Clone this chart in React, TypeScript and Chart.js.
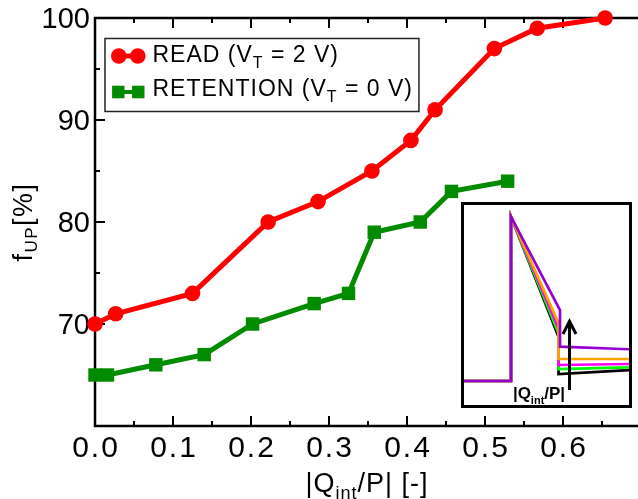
import React, { useEffect, useRef } from 'react';
import { Chart, registerables } from 'chart.js';
Chart.register(...registerables);

// ---------- main chart data ----------
const readX = [0, 0.0265, 0.125, 0.222, 0.286, 0.355, 0.405, 0.436, 0.512, 0.567, 0.654];
const readY = [70, 71, 73, 80, 82, 85, 88, 91, 97, 99, 100];
const retX = [0, 0.016, 0.078, 0.14, 0.202, 0.281, 0.325, 0.358, 0.417, 0.457, 0.529];
const retY = [65, 65, 66, 67, 70, 72, 73, 79, 80, 83, 84];

const xTickValues = [0, 0.1, 0.2, 0.3, 0.4, 0.5, 0.6];
const xTickLabels = ['0.0', '0.1', '0.2', '0.3', '0.4', '0.5', '0.6'];
const yTickValues = [70, 80, 90, 100];
const yTickLabels = ['70', '80', '90', '100'];
const xMinorValues = [0.05, 0.15, 0.25, 0.35, 0.45, 0.55, 0.65];
const yMinorValues = [65, 75, 85, 95];

const legendNames = ['READ', 'RETENTION'];
const legendVT = ['2 V', '0 V'];

// ---------- inset data (arbitrary units) ----------
const insetX = [0, 47, 47, 94.5, 94.5, 166];
const insetXPurple = [0, 47, 47, 96, 96, 166];
const insetPurple = [24, 24, 188.3, 95, 58.3, 55.7];
const insetOrange = [24, 24, 188.3, 82, 46, 46];
const insetMagenta = [24, 24, 188.3, 76.7, 40, 41];
const insetGreen = [24, 24, 188.3, 71.7, 36, 37.7];
const insetBlack = [24, 24, 188.3, 68.3, 31, 35];
const arrowX = [105.5, 105.5];
const arrowY = [15, 83.3];
const arrowHeadX = [99, 105.5, 112];
const arrowHeadY = [71, 83.8, 71];

const FONT = '"Liberation Sans", Arial, Helvetica, sans-serif';
const RED = '#ff0000';
const GREEN = 'rgb(0,139,0)';

type Part = { t: string; sub?: boolean };
function drawRich(
  ctx: CanvasRenderingContext2D,
  parts: Part[],
  x: number,
  y: number,
  font: string,
  subFont: string,
  subDy: number,
  align: 'left' | 'center',
  spacing = 0
) {
  ctx.save();
  ctx.textBaseline = 'alphabetic';
  ctx.textAlign = 'left';
  (ctx as any).letterSpacing = spacing + 'px';
  ctx.fillStyle = '#000';
  let total = 0;
  const widths = parts.map((p) => {
    ctx.font = p.sub ? subFont : font;
    const w = ctx.measureText(p.t).width;
    total += w;
    return w;
  });
  let cx = align === 'center' ? x - total / 2 : x;
  parts.forEach((p, i) => {
    ctx.font = p.sub ? subFont : font;
    ctx.fillText(p.t, cx, y + (p.sub ? subDy : 0));
    cx += widths[i];
  });
  ctx.restore();
  return total;
}

const axesPlugin = {
  id: 'axesPlugin',
  beforeDatasetsDraw(chart: any) {
    const ctx: CanvasRenderingContext2D = chart.ctx;
    const { left, right, top, bottom } = chart.chartArea;
    const xs = chart.scales.x;
    const ys = chart.scales.y;
    ctx.save();
    ctx.strokeStyle = '#000';
    ctx.lineWidth = 2.5;
    ctx.beginPath();
    ctx.moveTo(left, top);
    ctx.lineTo(right + 5, top);
    ctx.moveTo(left, top - 1.25);
    ctx.lineTo(left, bottom + 1.25);
    ctx.moveTo(left, bottom);
    ctx.lineTo(right + 5, bottom);
    ctx.stroke();
    ctx.lineWidth = 2;
    ctx.beginPath();
    const tick = (v: number, len: number) => {
      const px = xs.getPixelForValue(v);
      ctx.moveTo(px, bottom);
      ctx.lineTo(px, bottom - len);
      ctx.moveTo(px, top);
      ctx.lineTo(px, top + len);
    };
    xTickValues.forEach((v) => tick(v, 10));
    xMinorValues.forEach((v) => tick(v, 5));
    const ytick = (v: number, len: number) => {
      const py = ys.getPixelForValue(v);
      ctx.moveTo(left, py);
      ctx.lineTo(left + len, py);
    };
    yTickValues.forEach((v) => ytick(v, 10));
    yMinorValues.forEach((v) => ytick(v, 5));
    ctx.stroke();

    // tick labels
    ctx.fillStyle = '#000';
    ctx.font = `29px ${FONT}`;
    ctx.textAlign = 'right';
    ctx.textBaseline = 'alphabetic';
    yTickValues.forEach((v, i) => {
      ctx.fillText(yTickLabels[i], left - 5, ys.getPixelForValue(v) + 10.4);
    });
    ctx.font = `30px ${FONT}`;
    ctx.textAlign = 'center';
    (ctx as any).letterSpacing = '2px';
    xTickValues.forEach((v, i) => {
      ctx.fillText(xTickLabels[i], xs.getPixelForValue(v) + 1, 457);
    });
    (ctx as any).letterSpacing = '0px';
    ctx.restore();

    // axis titles
    drawRich(
      ctx,
      [{ t: '|Q' }, { t: 'int', sub: true }, { t: '/P| [-]' }],
      367,
      492,
      `27px ${FONT}`,
      `18px ${FONT}`,
      7,
      'center',
      1
    );
    ctx.save();
    ctx.translate(32, 222);
    ctx.rotate(-Math.PI / 2);
    drawRich(ctx, [{ t: 'f' }, { t: 'UP', sub: true }, { t: '[%]' }], 0, 0, `27px ${FONT}`, `17px ${FONT}`, 5, 'center', 1.5);
    ctx.restore();
  },
  afterDraw(chart: any) {
    const ctx: CanvasRenderingContext2D = chart.ctx;
    // legend
    const textX = 152.5;
    const base = [62.3, 95.7];
    const f = `23px ${FONT}`;
    const sf = `16px ${FONT}`;
    let maxW = 0;
    legendNames.forEach((n, i) => {
      const w = drawRich(
        ctx,
        [{ t: n + ' (V' }, { t: 'T', sub: true }, { t: ' = ' + legendVT[i] + ')' }],
        textX,
        base[i],
        f,
        sf,
        6,
        'left',
        1
      );
      maxW = Math.max(maxW, w);
    });
    ctx.save();
    ctx.strokeStyle = '#222';
    ctx.lineWidth = 1.5;
    ctx.strokeRect(105, 38.5, textX + maxW + 6 - 105, 111.5 - 38.5);
    // markers
    ctx.strokeStyle = RED;
    ctx.lineWidth = 5;
    ctx.beginPath();
    ctx.moveTo(118.8, 56);
    ctx.lineTo(137.8, 56);
    ctx.stroke();
    ctx.fillStyle = RED;
    [118.8, 137.8].forEach((cx) => {
      ctx.beginPath();
      ctx.arc(cx, 56, 7.8, 0, Math.PI * 2);
      ctx.fill();
    });
    ctx.strokeStyle = GREEN;
    ctx.lineWidth = 4;
    ctx.beginPath();
    ctx.moveTo(118.3, 92);
    ctx.lineTo(138.3, 92);
    ctx.stroke();
    ctx.fillStyle = GREEN;
    [118.3, 138.3].forEach((cx) => {
      ctx.fillRect(cx - 6.2, 92 - 6.3, 12.4, 12.6);
    });
    ctx.restore();
  },
};

const insetPlugin = {
  id: 'insetPlugin',
  afterDraw(chart: any) {
    const ctx: CanvasRenderingContext2D = chart.ctx;
    const xs = chart.scales.x;
    const ys = chart.scales.y;
    drawRich(
      ctx,
      [{ t: '|Q' }, { t: 'int', sub: true }, { t: '/P|' }],
      xs.getPixelForValue(75),
      ys.getPixelForValue(6),
      `bold 17px ${FONT}`,
      `bold 11px ${FONT}`,
      5,
      'center'
    );
  },
};

function pts(xa: number[], ya: number[]) {
  return xa.map((x, i) => ({ x, y: ya[i] }));
}

function MainChart() {
  const ref = useRef<HTMLCanvasElement | null>(null);
  useEffect(() => {
    if (!ref.current) return;
    const chart = new Chart(ref.current, {
      type: 'line',
      data: {
        datasets: [
          {
            label: 'READ',
            data: pts(readX, readY),
            borderColor: RED,
            backgroundColor: RED,
            borderWidth: 5,
            pointStyle: 'circle',
            pointRadius: 7.8,
            pointBorderWidth: 0,
            pointBackgroundColor: RED,
            clip: false,
          } as any,
          {
            label: 'RETENTION',
            data: pts(retX, retY),
            borderColor: GREEN,
            backgroundColor: GREEN,
            borderWidth: 5,
            pointStyle: 'rect',
            pointRadius: 9.5,
            pointBorderWidth: 0,
            pointBackgroundColor: GREEN,
            clip: false,
          } as any,
        ],
      },
      options: {
        responsive: false,
        animation: false,
        devicePixelRatio: 1,
        layout: { padding: 0, autoPadding: false } as any,
        plugins: { legend: { display: false }, tooltip: { enabled: false } },
        scales: {
          x: {
            type: 'linear',
            position: 'bottom',
            min: 0,
            max: 0.7,
            ticks: { display: false },
            grid: { display: false },
            border: { display: false },
            afterFit: (s: any) => {
              s.height = 73;
            },
          },
          x2: {
            type: 'linear',
            axis: 'x',
            position: 'top',
            min: 0,
            max: 0.7,
            ticks: { display: false },
            grid: { display: false },
            border: { display: false },
            afterFit: (s: any) => {
              s.height = 18;
            },
          } as any,
          y: {
            type: 'linear',
            position: 'left',
            min: 60,
            max: 100,
            ticks: { display: false },
            grid: { display: false },
            border: { display: false },
            afterFit: (s: any) => {
              s.width = 95;
            },
          },
        },
      },
      plugins: [axesPlugin],
    });
    return () => chart.destroy();
  }, []);
  return <canvas ref={ref} width={641} height={499} style={{ width: 641, height: 499, display: 'block' }} />;
}

function InsetChart() {
  const ref = useRef<HTMLCanvasElement | null>(null);
  useEffect(() => {
    if (!ref.current) return;
    const mk = (xa: number[], ya: number[], color: string, w = 2.7) => ({
      data: pts(xa, ya),
      borderColor: color,
      borderWidth: w,
      pointRadius: 0,
      tension: 0,
      clip: false,
      borderJoinStyle: 'miter',
    });
    // Chart.js paints dataset 0 on top, so the purple curve comes first
    const chart = new Chart(ref.current, {
      type: 'line',
      data: {
        datasets: [
          mk(arrowHeadX, arrowHeadY, '#000000', 3),
          mk(arrowX, arrowY, '#000000', 3),
          mk(insetXPurple, insetPurple, 'rgb(148,0,211)'),
          mk(insetX, insetOrange, '#ffa500'),
          mk(insetX, insetMagenta, '#ff00ff'),
          mk(insetX, insetGreen, '#00ff00'),
          mk(insetX, insetBlack, '#000000'),
        ] as any,
      },
      options: {
        responsive: false,
        animation: false,
        devicePixelRatio: 1,
        layout: { padding: 0, autoPadding: false } as any,
        plugins: { legend: { display: false }, tooltip: { enabled: false } },
        scales: {
          x: { type: 'linear', min: 0, max: 165, display: false },
          y: { type: 'linear', min: 0, max: 200, display: false },
        },
      },
      plugins: [insetPlugin],
    });
    return () => chart.destroy();
  }, []);
  return <canvas ref={ref} width={165} height={200} style={{ width: 165, height: 200, display: 'block' }} />;
}

export default function App() {
  return (
    <div
      style={{
        position: 'fixed',
        left: 0,
        top: 0,
        width: 638,
        height: 499,
        overflow: 'hidden',
        background: '#fff',
      }}
    >
      <MainChart />
      <div
        style={{
          position: 'absolute',
          left: 461,
          top: 202,
          width: 171,
          height: 206,
          border: '3px solid #000',
          boxSizing: 'border-box',
          background: '#fff',
          overflow: 'hidden',
        }}
      >
        <InsetChart />
      </div>
    </div>
  );
}
